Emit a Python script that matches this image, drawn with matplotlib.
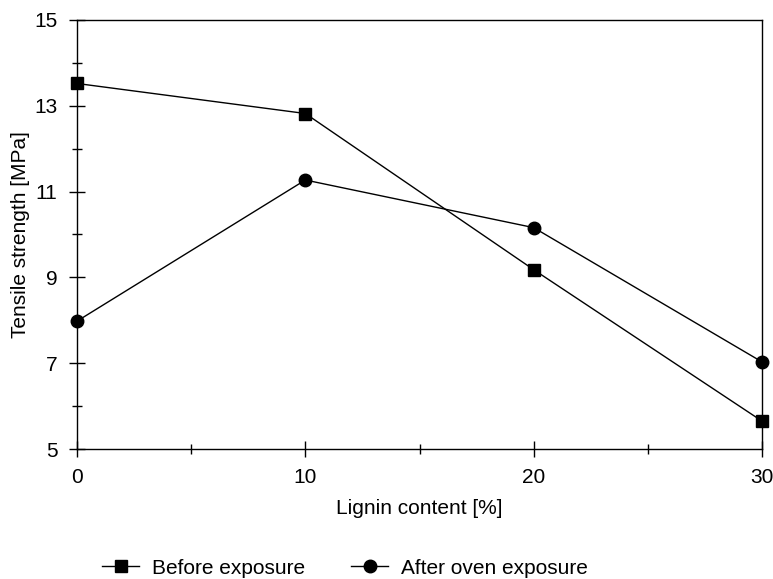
import numpy as np
import matplotlib.pyplot as plt

plt.rcParams['font.family'] = ['Liberation Sans', 'DejaVu Sans']

lignin = [0, 10, 20, 30]
before = [13.52, 12.82, 9.18, 5.65]
after = [7.98, 11.27, 10.16, 7.03]

fig = plt.figure(figsize=(7.73, 5.79), dpi=100)
ax = fig.add_axes([0.0996, 0.2245, 0.8862, 0.741])

ax.plot(lignin, before, color='black', lw=1, marker='s', markersize=9,
        label='Before exposure', clip_on=False, zorder=3)
ax.plot(lignin, after, color='black', lw=1, marker='o', markersize=9,
        label='After oven exposure', clip_on=False, zorder=3)

ax.set_xlim(0, 30)
ax.set_ylim(5, 15)
ax.set_xticks([0, 10, 20, 30])
ax.set_xticks([5, 15, 25], minor=True)
ax.set_yticks([5, 7, 9, 11, 13, 15])
ax.set_yticks([6, 8, 10, 12, 14], minor=True)
ax.tick_params(which='major', direction='inout', length=12, width=1, labelsize=15, pad=8)
ax.tick_params(which='minor', direction='inout', length=7, width=1)
for s in ax.spines.values():
    s.set_linewidth(1)

ax.set_xlabel('Lignin content [%]', fontsize=15, labelpad=8)
ax.set_ylabel('Tensile strength [MPa]', fontsize=15, labelpad=3)

fig.legend(loc='lower center', bbox_to_anchor=(0.446, -0.03), ncol=2, frameon=False,
           fontsize=15, handlelength=1.8, columnspacing=2.2, handletextpad=0.6)

fig.savefig('out.png', dpi=100)
